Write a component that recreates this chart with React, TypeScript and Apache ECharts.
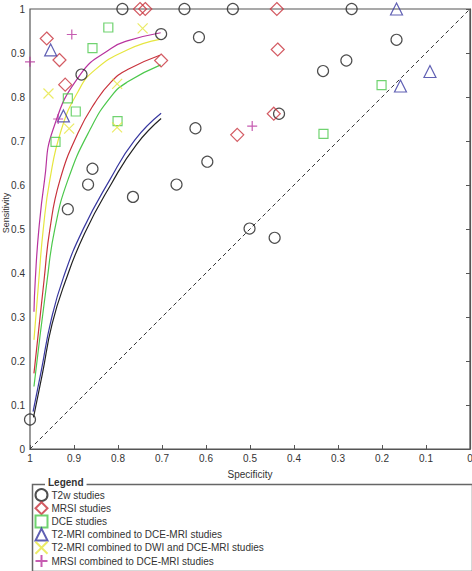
import React, { useEffect, useRef } from "react";
import * as echarts from "echarts";

// [specificity, sensitivity]
const t2wStudies = [
  [0.790, 1], [0.649, 1], [0.539, 1], [0.269, 1], [0.702, 0.943], [0.616, 0.936],
  [0.167, 0.930], [0.281, 0.883], [0.334, 0.859], [0.883, 0.851], [0.624, 0.729],
  [0.434, 0.762], [0.597, 0.653], [0.858, 0.637], [0.868, 0.601], [0.667, 0.601],
  [0.766, 0.573], [0.914, 0.545], [0.501, 0.501], [0.444, 0.480], [1.0, 0.067],
];
const mrsiStudies = [
  [0.750, 1], [0.738, 1], [0.439, 1], [0.962, 0.933], [0.933, 0.884], [0.920, 0.828],
  [0.702, 0.883], [0.437, 0.908], [0.529, 0.714], [0.446, 0.762],
];
const dceStudies = [
  [0.822, 0.958], [0.858, 0.911], [0.914, 0.797], [0.896, 0.767], [0.942, 0.698],
  [0.801, 0.745], [0.201, 0.827], [0.333, 0.716],
];
const t2DceStudies = [
  [0.953, 0.907], [0.924, 0.757], [0.167, 1], [0.091, 0.858], [0.158, 0.825],
];
const t2DwiDceStudies = [
  [0.744, 0.956], [0.958, 0.808], [0.802, 0.830], [0.911, 0.728], [0.802, 0.731],
];
const mrsiDceStudies = [
  [1.0, 0.880], [0.905, 0.942], [0.936, 0.750], [0.495, 0.734],
];

// SROC curves
const curveMrsiDce = [
  [0.991, 0.312], [0.988, 0.384], [0.980, 0.498], [0.967, 0.611], [0.948, 0.725],
  [0.885, 0.852], [0.815, 0.911], [0.777, 0.928], [0.703, 0.946],
];
const curveT2DwiDce = [
  [0.991, 0.248], [0.980, 0.384], [0.970, 0.498], [0.955, 0.611], [0.929, 0.725],
  [0.891, 0.812], [0.853, 0.861], [0.777, 0.908], [0.705, 0.931],
];
const curveMrsi = [
  [0.991, 0.172], [0.968, 0.384], [0.955, 0.498], [0.932, 0.611], [0.891, 0.718],
  [0.853, 0.786], [0.815, 0.835], [0.777, 0.863], [0.705, 0.895],
];
const curveDce = [
  [0.991, 0.142], [0.961, 0.384], [0.944, 0.498], [0.914, 0.611], [0.864, 0.725],
  [0.815, 0.802], [0.777, 0.835], [0.703, 0.873],
];
const curveT2Dce = [
  [0.993, 0.085], [0.974, 0.18], [0.952, 0.293], [0.924, 0.39], [0.880, 0.498],
  [0.819, 0.611], [0.762, 0.702], [0.702, 0.763],
];
const curveT2w = [
  [0.992, 0.072], [0.972, 0.17], [0.950, 0.283], [0.920, 0.38], [0.876, 0.49],
  [0.815, 0.603], [0.758, 0.692], [0.702, 0.751],
];
const chanceLine = [[1, 0], [0, 1]];

const legendNames = [
  "T2w studies",
  "MRSI studies",
  "DCE studies",
  "T2-MRI combined to DCE-MRI studies",
  "T2-MRI combined to DWI and DCE-MRI studies",
  "MRSI combined to DCE-MRI studies",
];

const FONT = "'Liberation Sans', Arial, sans-serif";
const C_BLACK = "#222222";
const C_RED = "#c8323c";
const C_GREEN = "#4cc84c";
const C_BLUE = "#3838a0";
const C_YELLOW = "#e6e640";
const C_MAGENTA = "#b8339e";

const X_PATH = "path://M0,0L10,10M0,10L10,0";
const PLUS_PATH = "path://M5,0L5,10M0,5L10,5";

function scatter(name: string, data: number[][], symbol: string, size: number, color: string) {
  return {
    type: "scatter",
    name,
    data,
    symbol,
    symbolSize: size,
    clip: false,
    z: 5,
    itemStyle: { color: "none", borderColor: color, borderWidth: 1.2 },
    emphasis: { disabled: true },
  };
}

function curve(name: string, data: number[][], color: string) {
  return {
    type: "line",
    name,
    data,
    smooth: true,
    symbol: "none",
    z: 3,
    lineStyle: { color, width: 1.2 },
    emphasis: { disabled: true },
  };
}

export default function App() {
  const ref = useRef<HTMLDivElement>(null);
  useEffect(() => {
    const chart = echarts.init(ref.current!, null, { renderer: "svg" });
    const legends = legendNames.map((n, i) => ({
      data: [n],
      orient: "horizontal",
      left: 31,
      top: 486.5 + i * 13.2,
      padding: [0, 0, 0, 2],
      itemWidth: 12,
      itemHeight: 12,
      itemGap: 0,
      selectedMode: false,
      textStyle: {
        fontSize: 10,
        color: "#333",
        fontFamily: FONT,
        padding: [0, 0, 0, -1],
      },
    }));
    const option = {
      animation: false,
      backgroundColor: "#ffffff",
      textStyle: { fontFamily: FONT },
      grid: {
        left: 30,
        top: 9,
        width: 440,
        height: 440,
        show: true,
        borderColor: "#555555",
        borderWidth: 1.2,
        containLabel: false,
        outerBoundsMode: "none",
      },
      xAxis: {
        type: "value",
        inverse: true,
        min: 0,
        max: 1,
        interval: 0.1,
        name: "Specificity",
        nameLocation: "middle",
        nameGap: 20,
        nameMoveOverlap: false,
        nameTextStyle: { fontSize: 10, color: "#333", fontFamily: FONT },
        axisLine: { show: true, lineStyle: { color: "#555", width: 1.2 } },
        axisTick: { show: true, inside: true, length: 4, lineStyle: { color: "#555" } },
        axisLabel: { fontSize: 10, color: "#333", margin: 4, fontFamily: FONT },
        splitLine: { show: false },
      },
      yAxis: {
        type: "value",
        min: 0,
        max: 1,
        interval: 0.1,
        axisLine: { show: true, lineStyle: { color: "#555", width: 1.2 } },
        axisTick: { show: true, inside: false, length: 4, lineStyle: { color: "#555" } },
        axisLabel: { fontSize: 10, color: "#333", margin: 5, fontFamily: FONT },
        splitLine: { show: false },
      },
      legend: legends,
      graphic: [
        {
          type: "text",
          x: 6,
          y: 213,
          rotation: Math.PI / 2,
          style: {
            text: "Sensitivity",
            font: `9px ${FONT}`,
            fill: "#333",
            align: "center",
            verticalAlign: "middle",
          },
        },
        {
          type: "rect",
          left: 30,
          top: 482,
          shape: { width: 440, height: 87 },
          style: { fill: "none", stroke: "#666", lineWidth: 1.5 },
          z: 1,
        },
        {
          type: "text",
          left: 45,
          top: 477,
          style: {
            text: "Legend",
            font: `bold 10px ${FONT}`,
            fill: "#333",
            backgroundColor: "#fff",
            padding: [0, 3, 0, 3],
          },
          z: 2,
        },
      ],
      series: [
        {
          type: "line",
          name: "chance",
          data: chanceLine,
          symbol: "none",
          z: 2,
          lineStyle: { color: "#333", width: 1, type: [4, 3] },
          emphasis: { disabled: true },
        },
        curve("c-t2w", curveT2w, C_BLACK),
        curve("c-t2dce", curveT2Dce, C_BLUE),
        curve("c-dce", curveDce, C_GREEN),
        curve("c-mrsi", curveMrsi, C_RED),
        curve("c-t2dwidce", curveT2DwiDce, C_YELLOW),
        curve("c-mrsidce", curveMrsiDce, C_MAGENTA),
        scatter(legendNames[0], t2wStudies, "circle", 11, C_BLACK),
        scatter(legendNames[1], mrsiStudies, "diamond", 13, C_RED),
        scatter(legendNames[2], dceStudies, "rect", 9, C_GREEN),
        scatter(legendNames[3], t2DceStudies, "triangle", 12, C_BLUE),
        scatter(legendNames[4], t2DwiDceStudies, X_PATH, 10, C_YELLOW),
        scatter(legendNames[5], mrsiDceStudies, PLUS_PATH, 10, C_MAGENTA),
      ],
    };
    chart.setOption(option as any);
    return () => chart.dispose();
  }, []);
  return (
    <div
      ref={ref}
      style={{ position: "fixed", left: 0, top: 0, width: 472, height: 571, background: "#fff" }}
    />
  );
}
